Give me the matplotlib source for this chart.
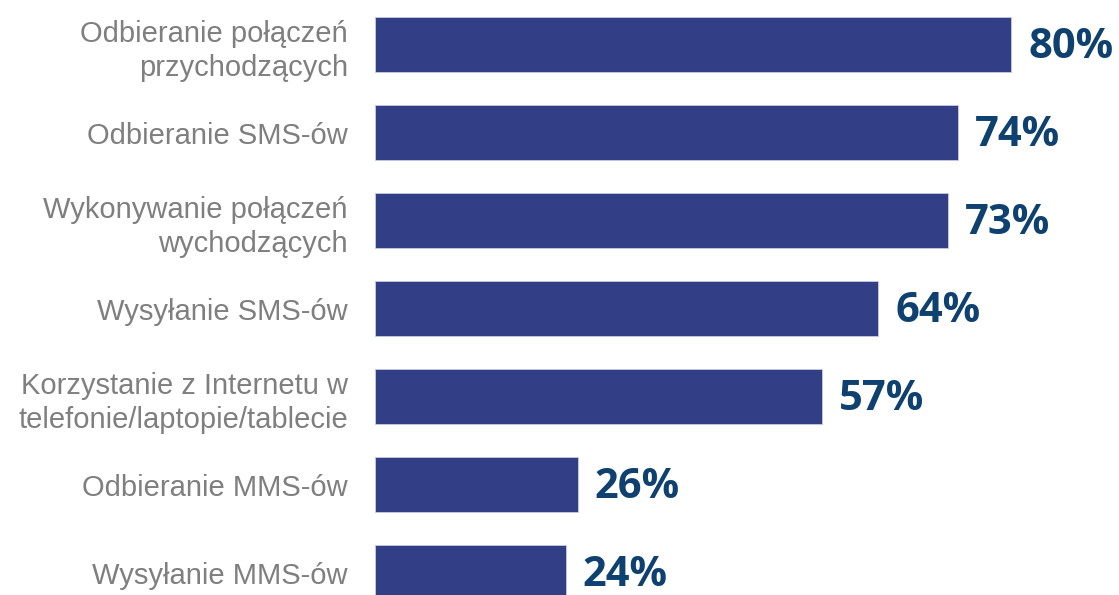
import matplotlib
matplotlib.use('Agg')
from matplotlib import pyplot as plt

labels = ['Odbieranie połączeń\nprzychodzących',
          'Odbieranie SMS-ów',
          'Wykonywanie połączeń\nwychodzących',
          'Wysyłanie SMS-ów',
          'Korzystanie z Internetu w\ntelefonie/laptopie/tablecie',
          'Odbieranie MMS-ów',
          'Wysyłanie MMS-ów']
# bar lengths, labels are the rounded values shown
values = [80.0, 73.3, 72.1, 63.3, 56.2, 25.5, 24.0]
shown = [80, 74, 73, 64, 57, 26, 24]

fig = plt.figure(figsize=(11.19, 5.95), dpi=100)
ax = fig.add_axes([375/1119, 0, 1 - 375/1119, 1])

y = list(range(len(values)))
ax.barh(y, values, height=0.625, color='#323F86', edgecolor='#c8cce0', linewidth=0.6)

for i, v, s in zip(y, values, shown):
    ax.annotate('{}%'.format(s), xy=(v, i), xytext=(17, -3), textcoords='offset pixels',
                ha='left', va='center', fontsize=30, fontweight='bold',
                color='#0F4170', family='Open Sans')

ax.set_xlim(0, (1119 - 375) / 7.95)
ax.set_ylim((595 - 44.5) / 88, -44.5 / 88)
ax.set_yticks(y)
ax.set_yticklabels(labels, fontsize=21, color='#7F7F7F', family='Liberation Sans',
                   linespacing=1.3)
ax.tick_params(axis='y', length=0, pad=19.5)
ax.set_xticks([])
for s in ax.spines.values():
    s.set_visible(False)

fig.savefig('out.png', dpi=100)
